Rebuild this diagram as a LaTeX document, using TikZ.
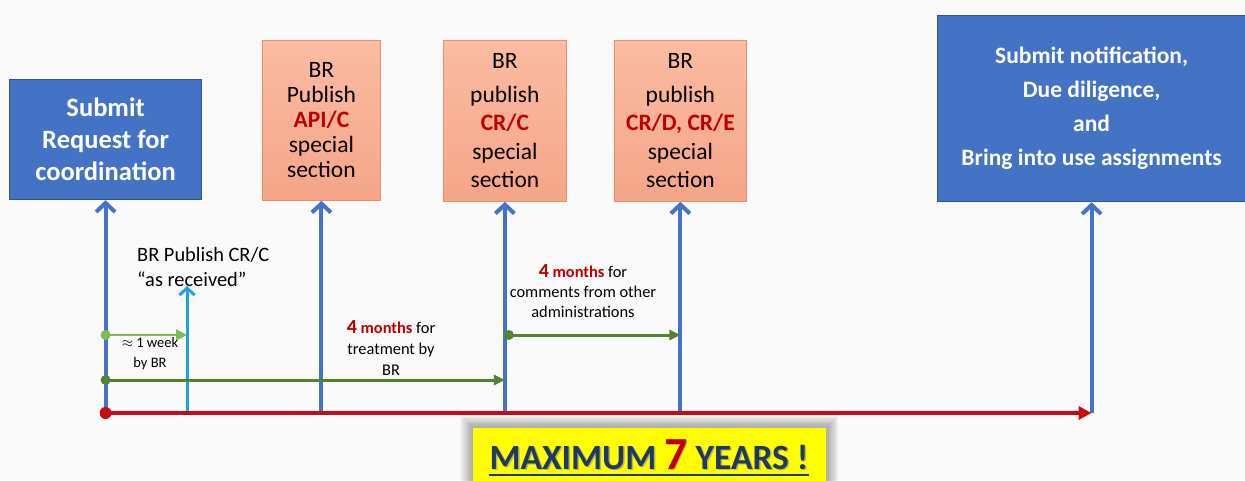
\documentclass[tikz,border=0pt]{standalone}
\usepackage{fontspec}
\setmainfont{Carlito}
\usetikzlibrary{arrows.meta,calc}

\definecolor{bg}{RGB}{250,250,250}
\definecolor{boxblue}{RGB}{68,114,196}
\definecolor{boxblueedge}{RGB}{47,85,151}
\definecolor{salmontop}{RGB}{250,188,162}
\definecolor{salmonbot}{RGB}{245,165,136}
\definecolor{salmonedge}{RGB}{226,146,116}
\definecolor{linkblue}{RGB}{72,114,200}
\definecolor{tlred}{RGB}{200,10,20}
\definecolor{txtred}{RGB}{192,0,0}
\definecolor{dgreen}{RGB}{84,130,53}
\definecolor{lgreen}{RGB}{125,188,85}
\definecolor{skyblue}{RGB}{30,160,225}
\definecolor{navy}{RGB}{31,56,100}
\definecolor{hiyellow}{RGB}{255,255,0}

\begin{document}
\begin{tikzpicture}[x=1pt,y=-1pt,
  bluebox/.style={draw=boxblueedge, line width=1.2pt, fill=boxblue, text=white,
    font=\bfseries, align=center, inner sep=0pt, anchor=north west},
  salmonbox/.style={draw=salmonedge, line width=0.8pt, top color=salmontop,
    bottom color=salmonbot, align=center, inner sep=0pt, anchor=north west, text=black},
  vlink/.style={draw=linkblue, line width=4pt, -{Straight Barb[length=9pt,width=19pt]}},
  timeline/.style={draw=tlred, line width=4pt, -{Triangle[length=13pt,width=13pt]}},
  span/.style={draw=dgreen, line width=3pt, -{Triangle[length=11pt,width=10pt]}},
  shortspan/.style={draw=lgreen, line width=2pt, -{Triangle[length=11pt,width=11pt]}},
  rcvlink/.style={draw=skyblue, line width=3pt, -{Straight Barb[length=7pt,width=15pt]}},
  note/.style={align=center, inner sep=0pt}
]
% canvas
\fill[bg] (0,0) rectangle (1245,480);
\useasboundingbox (0,0) rectangle (1245,480);

% milestone boxes
\node[bluebox, minimum width=192, minimum height=120,
      font=\bfseries\fontsize{26.5}{32}\selectfont] (req) at (9,79)
  {Submit\\Request for\\coordination};
\node[salmonbox, minimum width=118, minimum height=160,
      font=\fontsize{23.5}{25}\selectfont] (api) at (262,40)
  {BR\\Publish\\{\color{txtred}\bfseries API/C}\\special\\section};
\node[salmonbox, minimum width=123, minimum height=161,
      font=\fontsize{23.5}{28.5}\selectfont] (crc) at (443,40)
  {BR\\[5pt]publish\\{\color{txtred}\bfseries CR/C}\\special\\section};
\node[salmonbox, minimum width=132, minimum height=161,
      font=\fontsize{23.5}{28.5}\selectfont] (crd) at (614,40)
  {BR\\[5pt]publish\\{\color{txtred}\bfseries CR/D, CR/E}\\special\\section};
\node[bluebox, minimum width=308, minimum height=186,
      font=\bfseries\fontsize{23.5}{34}\selectfont] (fin) at (937,15)
  {Submit notification,\\Due diligence,\\and\\Bring into use assignments};

% base line of the time axis
\coordinate (base) at (0,413);
\coordinate (t0) at (req.south |- base);
\coordinate (t1) at (api.south |- base);
\coordinate (t2) at (crc.south |- base);
\coordinate (t3) at (crd.south |- base);
\coordinate (t4) at (fin.south |- base);

% upward links from the axis to each milestone
\draw[vlink] (t0) -- (req.south);
\draw[vlink] (t1) -- (api.south);
\draw[vlink] (t2) -- (crc.south);
\draw[vlink] (t3) -- (crd.south);
\draw[vlink] (t4) -- (fin.south);

% "as received" publication
\node[anchor=west, align=left, inner sep=0pt,
      font=\fontsize{20.4}{25}\selectfont] (rcvlbl) at (137,267)
  {BR Publish CR/C\\“as received”};
\coordinate (rcv) at (187,413);
\coordinate (rcvtop) at (187,286);
\draw[rcvlink] (rcv) -- (rcvtop);

% durations
\coordinate (w0) at (t0 |- 0,335);
\coordinate (w1) at (rcv |- 0,335);
\draw[shortspan] (w0) -- (w1);
\fill[lgreen] (w0) circle (5);
\node[note, font=\fontsize{14.5}{20}\selectfont] (wklbl) at (150,354)
  {$\approx$ 1 week\\by BR};

\coordinate (m0) at (t0 |- 0,380);
\coordinate (m1) at (t2 |- 0,380);
\draw[span] (m0) -- (m1);
\fill[dgreen] (m0) circle (5);
\node[note, font=\fontsize{16.4}{21}\selectfont] (trtlbl) at (391,348)
  {{\color{txtred}\bfseries{\fontsize{20}{21}\selectfont 4} months} for\\treatment by\\BR};

\coordinate (c0) at ($(t2 |- 0,335)+(4,0)$);
\coordinate (c1) at (t3 |- 0,335);
\draw[span] (c0) -- (c1);
\fill[dgreen] (c0) circle (5);
\node[note, font=\fontsize{16.4}{20}\selectfont] (cmtlbl) at (583,291)
  {{\color{txtred}\bfseries{\fontsize{20}{20}\selectfont 4} months} for\\comments from other\\administrations};

% main time axis
\draw[timeline] (t0) -- (t4);
\fill[tlred] (t0) circle (6);

% overall limit banner
\foreach \i in {1,...,9}
  \fill[black, opacity=0.035] (472-1.3*\i,427-1.3*\i) rectangle (828+1.1*\i,495);
\node[fill=hiyellow, minimum width=353, minimum height=62, inner sep=0pt,
      anchor=north west] (maxbox) at (473,428) {};
\node[anchor=base, inner sep=0pt, text=black!45, opacity=0.6,
      font=\bfseries\fontsize{35.5}{36}\selectfont] at ($(649,469)+(1.5,1.5)$)
  {MAXIMUM {\fontsize{46}{46}\selectfont 7} YEARS !};
\node[anchor=base, inner sep=0pt, text=navy,
      font=\bfseries\fontsize{35.5}{36}\selectfont] (maxtxt) at (649,469)
  {MAXIMUM {\color{txtred}\fontsize{46}{46}\selectfont 7} YEARS !};
\draw[navy, line width=2pt] ($(maxtxt.base west)+(0,6)$) -- ($(maxtxt.base east)+(0,6)$);
\end{tikzpicture}
\end{document}
